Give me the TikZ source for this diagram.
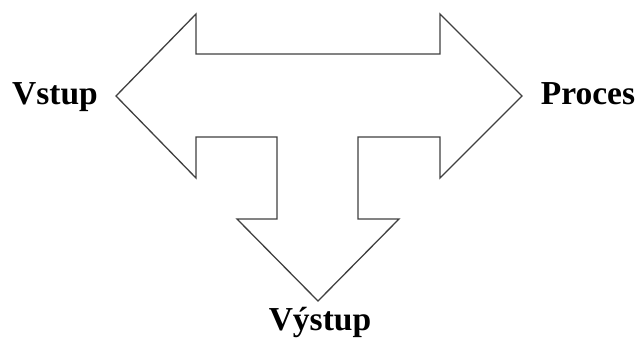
\documentclass[tikz,border=0pt]{standalone}
\usepackage{fontspec}
\setmainfont{Liberation Serif}
\begin{document}
\begin{tikzpicture}[x=1pt,y=-1pt,
  outline/.style={draw=black!75,line width=1.3pt,line join=miter,fill=white},
  lbl/.style={font=\fontsize{33.5}{38}\selectfont\bfseries,inner sep=0pt,text=black}]
\useasboundingbox (0,0) rectangle (641,338);
\draw[outline] (116,96) -- (196,14) -- (196,54) -- (440,54) -- (440,14) -- (522,96)
  -- (440,178) -- (440,137) -- (358,137) -- (358,219) -- (399,219) -- (318,301)
  -- (237,219) -- (277,219) -- (277,137) -- (196,137) -- (196,178) -- cycle;
\node[lbl,anchor=base] (vstup) at (55,104) {Vstup};
\node[lbl,anchor=base] (proces) at (588,104) {Proces};
\node[lbl,anchor=base] (vystup) at (320,330) {Výstup};
\end{tikzpicture}
\end{document}
